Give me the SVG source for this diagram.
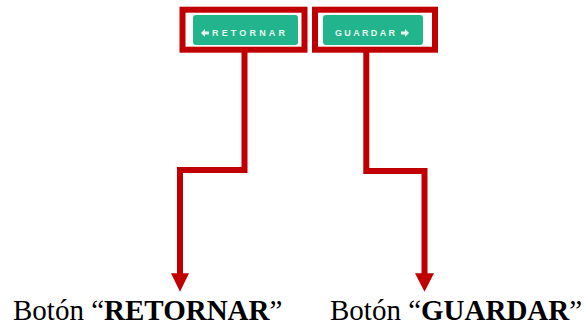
<svg xmlns="http://www.w3.org/2000/svg" width="584" height="326" viewBox="0 0 584 326">
<defs>
<style>
.frame{fill:none;stroke:#C00000;stroke-width:6}
.btn{fill:#22B48C}
.btxt{font-family:"Liberation Sans",Arial,sans-serif;font-weight:bold;font-size:9px;fill:#E8F7F2}
.icon{fill:#E8F7F2}
.wire{fill:none;stroke:#C00000;stroke-width:6;stroke-linejoin:miter}
.head{fill:#C00000}
.lbl{font-family:"Liberation Serif","Times New Roman",serif;font-size:29px;fill:#000}
.b{font-weight:bold}
</style>
</defs>
<rect width="584" height="326" fill="#fff"/>
<g id="retornar">
<rect class="btn" x="193" y="15" width="105" height="30" rx="3"/>
<polygon class="icon" points="201,33 205,29 205,31.5 209,31.5 209,34.5 205,34.5 205,37"/>
<text class="btxt" x="212" y="36" textLength="73" lengthAdjust="spacing">RETORNAR</text>
<rect class="frame" x="182.5" y="9.7" width="122" height="40"/>
</g>
<g id="guardar">
<rect class="btn" x="323" y="15" width="100" height="30" rx="3"/>
<text class="btxt" x="335" y="36" textLength="60" lengthAdjust="spacing">GUARDAR</text>
<polygon class="icon" points="409,33 405,29 405,31.5 401,31.5 401,34.5 405,34.5 405,37"/>
<rect class="frame" x="315" y="9.7" width="120" height="40"/>
</g>
<g id="connectors">
<polyline class="wire" points="244.5,52 244.5,170 180,170 180,275"/>
<polygon class="head" points="171,273.3 189,273.3 180,291.7"/>
<polyline class="wire" points="366.3,52 366.3,171 424.5,171 424.5,275"/>
<polygon class="head" points="415,273.3 434,273.3 424.5,291.7"/>
</g>
<g id="label-retornar">
<text class="lbl" x="13" y="320">Botón “<tspan class="b">RETORNAR</tspan>”</text>
</g>
<g id="label-guardar">
<text class="lbl" x="330" y="320">Botón “<tspan class="b">GUARDAR</tspan>”</text>
</g>
</svg>
